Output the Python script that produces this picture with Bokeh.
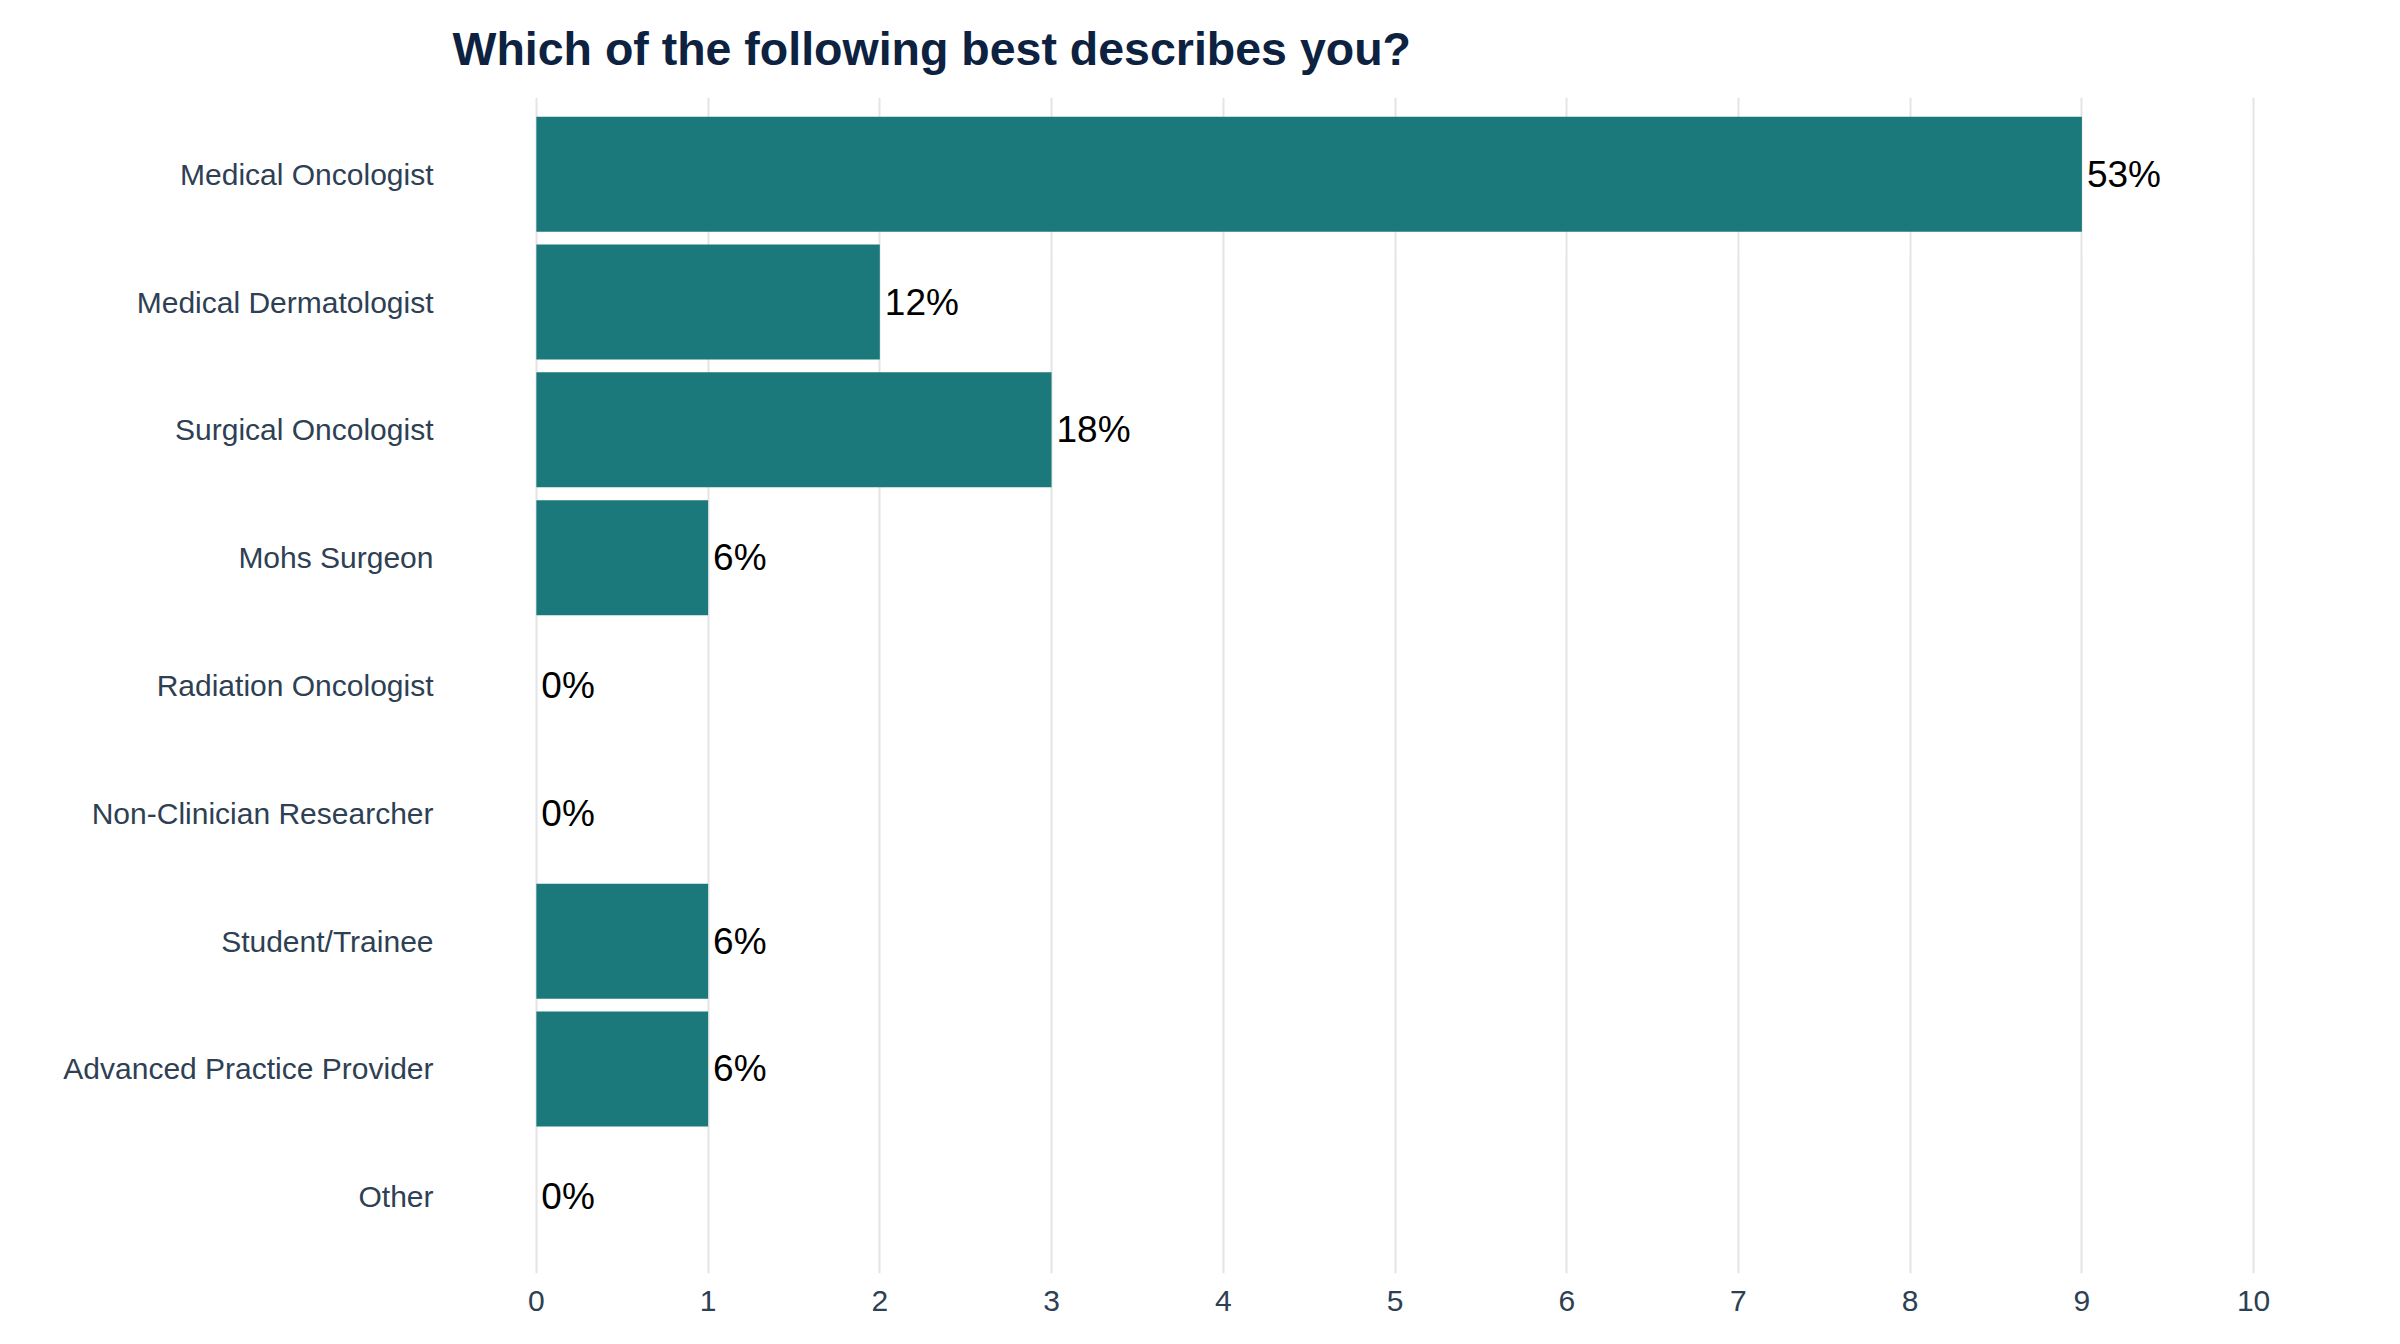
from bokeh.plotting import figure
from bokeh.models import ColumnDataSource, FactorRange, Range1d, FixedTicker
from bokeh.core.properties import value
from bokeh.embed import file_html
from bokeh.resources import INLINE

# ---- data ----
categories = ["Medical Oncologist", "Medical Dermatologist", "Surgical Oncologist",
              "Mohs Surgeon", "Radiation Oncologist", "Non-Clinician Researcher",
              "Student/Trainee", "Advanced Practice Provider", "Other"]
counts = [9, 2, 3, 1, 0, 0, 1, 1, 0]
pct_labels = ["53%", "12%", "18%", "6%", "0%", "0%", "6%", "6%", "0%"]
x_ticks = [0, 1, 2, 3, 4, 5, 6, 7, 8, 9, 10]
title_text = "Which of the following best describes you?"

FONT = "Liberation Sans"
BAR = "#1B787B"
GRID = "#E4E4E4"
AXIS_TXT = "#2E4053"
TITLE_C = "#0D2240"

src = ColumnDataSource(dict(cat=categories, n=counts, lab=pct_labels))

y_range = FactorRange(factors=list(reversed(categories)),
                      range_padding=0.1, range_padding_units="absolute")
x_range = Range1d(-0.5, 10.5)

p = figure(width=2392, height=1336, y_range=y_range, x_range=x_range,
           output_backend="svg", toolbar_location=None,
           min_border_left=450, min_border_right=53,
           min_border_top=97, min_border_bottom=63)

p.hbar(y="cat", right="n", left=0, height=0.9, source=src,
       fill_color=BAR, line_color=None)

p.text(x="n", y="cat", text="lab", source=src, x_offset=5,
       text_baseline="middle", text_align="left",
       text_font=value(FONT), text_font_size="37px", text_color="black")

# title
p.title.text = title_text
p.title.text_font = FONT
p.title.text_font_size = "46.5px"
p.title.text_font_style = "bold"
p.title.text_color = TITLE_C
p.title.align = "left"
p.title.vertical_align = "top"
p.title.offset = 2
p.title.standoff = 42

# axes
p.outline_line_color = None
p.background_fill_color = "white"
p.border_fill_color = "white"

p.xaxis.ticker = FixedTicker(ticks=x_ticks)
p.xaxis.axis_line_color = None
p.xaxis.major_tick_line_color = None
p.xaxis.minor_tick_line_color = None
p.xaxis.major_tick_out = 0
p.xaxis.major_tick_in = 0
p.xaxis.major_label_standoff = 17
p.xaxis.major_label_text_font = FONT
p.xaxis.major_label_text_font_size = "30px"
p.xaxis.major_label_text_color = AXIS_TXT

p.yaxis.axis_line_color = None
p.yaxis.major_tick_line_color = None
p.yaxis.minor_tick_line_color = None
p.yaxis.major_tick_out = 0
p.yaxis.major_tick_in = 0
p.yaxis.major_label_standoff = 17
p.yaxis.major_label_text_font = FONT
p.yaxis.major_label_text_font_size = "30px"
p.yaxis.major_label_text_color = AXIS_TXT

p.xgrid.ticker = FixedTicker(ticks=x_ticks)
p.xgrid.grid_line_color = GRID
p.xgrid.grid_line_width = 2
p.ygrid.grid_line_color = None

open("out.html", "w").write(file_html(p, INLINE))
